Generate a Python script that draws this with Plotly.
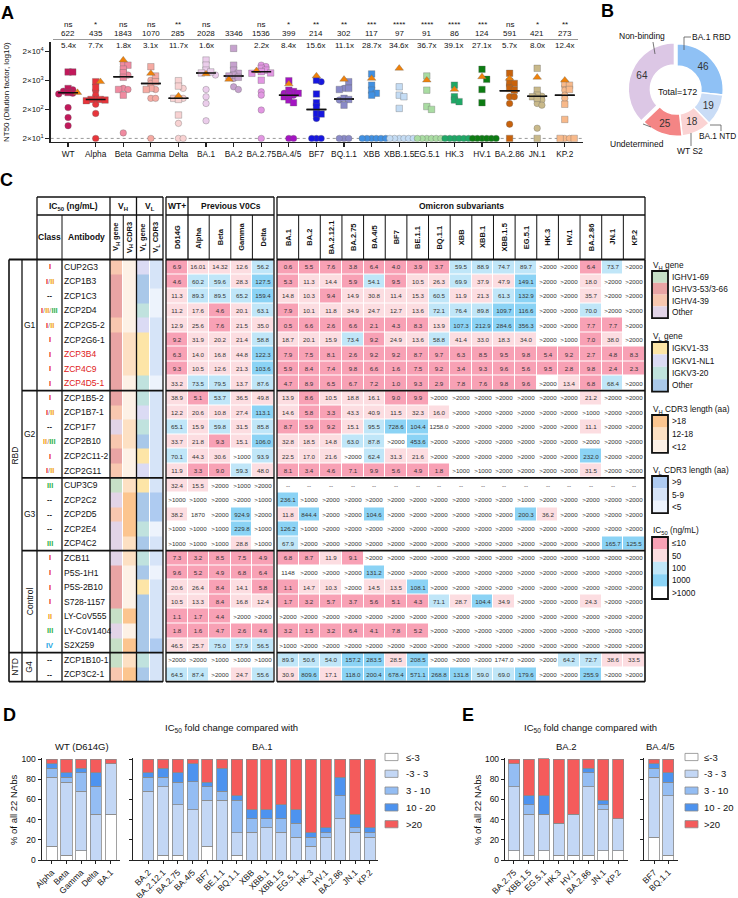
import numpy as np
import plotly.graph_objects as go

W, H = 738, 898
def X(px): return px / W
def Y(py): return 1 - py / H
FONT = "Liberation Sans, Arial, Helvetica, sans-serif"

# ======================= Panel A data =======================
variants_A = ["WT", "Alpha", "Beta", "Gamma", "Delta", "BA.1", "BA.2", "BA.2.75", "BA.4/5", "BF7",
              "BQ.1.1", "XBB", "XBB.1.5", "EG.5.1", "HK.3", "HV.1", "BA.2.86", "JN.1", "KP.2"]
gmt_A = [622, 435, 1843, 1070, 285, 2028, 3346, 1536, 399, 214, 302, 117, 97, 91, 86, 124, 591, 421, 273]
median_A = [750, 440, 2680, 1570, 480, 3600, 2830, 4000, 620, 200, 455, 20, 20, 20, 20, 20, 870, 570, 620]
sig_A = ["ns", "*", "ns", "ns", "**", "ns", "", "ns", "*", "**", "**", "***", "****", "****", "****", "***", "ns", "*", "**"]
fold_A = ["5.4x", "7.7x", "1.8x", "3.1x", "11.7x", "1.6x", "", "2.2x", "8.4x", "15.6x", "11.1x", "28.7x",
          "34.6x", "36.7x", "39.1x", "27.1x", "5.7x", "8.0x", "12.4x"]
colors_A = ["#c2185b", "#e8353b", "#f08aa0", "#f5aaa2", "#f8d2d2", "#ebcdeb", "#c6a2ce", "#e296e2", "#a414c2",
            "#1616e0", "#8a8ac8", "#4090e2", "#c4dcf4", "#a9dca2", "#1ea866", "#0c7c12", "#c8620c", "#c9b98a", "#f8b98a"]
circles_A = [
    [950, 850, 720, 680, 230, 105, 55],
    [880, 620, 440, 300, 145, 20],
    [7300, 3050, 1060, 970, 31],
    [2030, 1570, 970, 480, 480, 20],
    [1060, 480, 66, 20, 20],
    [3060, 970, 545, 320, 81],
    [2340, 1200, 970],
    [6700, 6000, 810, 620, 190, 20],
    [720, 620, 20, 20],
    [1800, 98, 20, 20, 20],
    [1060, 420, 20, 20, 20],
    [20, 20, 20, 20, 20, 20],
    [20, 20, 20, 20, 20, 20],
    [20, 20, 20, 20, 20, 20],
    [20, 20, 20, 20, 20, 20],
    [20, 20, 20, 20, 20, 20],
    [1370, 545, 545, 320, 62],
    [570, 420, 320, 280, 45],
    [1200, 920, 620, 480, 20, 20],
]
squares_A = [
    [3900, 3900, 1050, 760],
    [1800, 1140, 440, 440, 420, 400],
    [6700, 4900, 3660, 2550, 970, 620],
    [5900, 2830, 1800, 1060, 970],
    [1950, 1270, 480, 440, 128],
    [10000, 6700, 4500, 3900, 3600],
    [25300, 6700, 4500, 3500, 3050, 2830, 2550],
    [5200, 4500, 4000, 3600, 3500, 2030],
    [1950, 920, 820, 720, 660, 540, 420, 340],
    [2030, 680, 340, 250, 145, 138],
    [1800, 1060, 970, 480, 440, 280],
    [3330, 1370, 920, 720, 620],
    [1200, 620, 545, 216],
    [2830, 920, 250, 200],
    [1370, 545, 420, 370],
    [4800, 2170, 970, 340],
    [3500, 1800, 1570, 1060, 920, 20],
    [5200, 920, 620, 545, 480, 20],
    [1570, 1370, 970, 300, 90, 20, 20],
]
triangle_A = [760, 1800, 10000, 3460, 580, 3330, 2170, 4300, 1500, 2830, 2170, 2340, 5200, 2030, 970, 2650, 2340, 2550, 2030]

# ======================= Panel B data =======================
donut_labels = ["BA.1 RBD", "BA.1 NTD", "WT S2", "Undetermined", "Non-binding"]
donut_values = [46, 19, 18, 25, 64]
donut_colors = ["#8fc1f5", "#c9dcf6", "#fbd3d3", "#f48585", "#dcc7e5"]

# ======================= Panel C data =======================
wt_voc_cols = ["D614G", "Alpha", "Beta", "Gamma", "Delta"]
omicron_cols = ["BA.1", "BA.2", "BA.2.12.1", "BA.2.75", "BA.4/5", "BF7", "BE.1.1", "BQ.1.1", "XBB", "XBB.1",
                "XBB.1.5", "EG.5.1", "HK.3", "HV.1", "BA.2.86", "JN.1", "KP.2"]
antibodies = ["CUP2G3", "ZCP1B3", "ZCP1C3", "ZCP2D4", "ZCP2G5-2", "ZCP2G6-1", "ZCP3B4", "ZCP4C9", "ZCP4D5-1",
              "ZCP1B5-2", "ZCP1B7-1", "ZCP1F7", "ZCP2B10", "ZCP2C11-2", "ZCP2G11",
              "CUP3C9", "ZCP2C2", "ZCP2D5", "ZCP2E4", "ZCP4C2",
              "ZCB11", "P5S-1H1", "P5S-2B10", "S728-1157", "LY-CoV555", "LY-CoV1404", "S2X259",
              "ZCP1B10-1", "ZCP3C2-1"]
red_names = ["ZCP3B4", "ZCP4C9", "ZCP4D5-1"]
classes = ["I", "I/II", "--", "I/II/III", "I/II", "I", "I", "I", "I",
           "I", "I/II", "--", "II/III", "I", "I/II",
           "III", "--", "--", "--", "III",
           "I", "I", "I", "I", "II", "III", "IV",
           "--", "--"]
groups = [("G1", 0, 9), ("G2", 9, 15), ("G3", 15, 20), ("Control", 20, 27), ("G4", 27, 29)]
domains_ = [("RBD", 0, 27), ("NTD", 27, 29)]
vh_gene = ["IGHV4-39", "IGHV3-53/3-66", "IGHV3-53/3-66", "IGHV3-53/3-66", "IGHV4-39", "IGHV3-53/3-66",
           "IGHV3-53/3-66", "IGHV3-53/3-66", "IGHV3-53/3-66", "IGHV3-53/3-66", "IGHV4-39", "Other",
           "IGHV4-39", "IGHV3-53/3-66", "IGHV4-39", "IGHV1-69", "Other", "IGHV4-39", "Other", "Other",
           "Other", "IGHV3-53/3-66", "IGHV3-53/3-66", "IGHV3-53/3-66", "IGHV1-69", "Other", "IGHV1-69",
           "IGHV1-69", "IGHV4-39"]
vh_cdr3 = ["<12", "<12", "<12", "<12", "<12", "12-18", "12-18", "12-18", "<12", "<12", "<12", "12-18",
           "12-18", "<12", "<12", "12-18", ">18", ">18", ">18", "12-18", "12-18", "<12", "<12", "<12",
           ">18", "<12", ">18", "12-18", ">18"]
vl_gene = ["IGKV1-NL1", "Other", "Other", "IGKV3-20", "IGKV1-NL1", "IGKV1-33", "IGKV1-33", "IGKV1-33",
           "IGKV3-20", "IGKV3-20", "IGKV1-NL1", "IGKV3-20", "Other", "IGKV1-33", "IGKV1-NL1", "IGKV1-33",
           "Other", "Other", "IGKV3-20", "Other", "IGKV3-20", "Other", "IGKV1-33", "Other", "Other",
           "Other", "Other", "IGKV3-20", "Other"]
vl_cdr3 = ["5-9", "5-9", "<5", "<5", "5-9", "5-9", "5-9", "5-9", "<5", "5-9", "5-9", "5-9", "5-9", "5-9",
           "5-9", "5-9", ">9", ">9", "<5", "5-9", "5-9", "<5", "5-9", "5-9", "5-9", "5-9", ">9", "5-9", "5-9"]

G2K = ">2000"
ic50_wt_voc = [
    ["6.9", "16.01", "14.32", "12.6", "56.2"],
    ["4.6", "60.2", "59.6", "28.3", "127.5"],
    ["11.3", "89.3", "89.5", "65.2", "159.4"],
    ["11.2", "17.6", "4.6", "20.1", "63.1"],
    ["12.9", "25.6", "7.6", "21.5", "35.0"],
    ["9.2", "31.9", "20.2", "21.4", "58.8"],
    ["6.3", "14.0", "16.8", "44.8", "122.3"],
    ["9.3", "10.5", "12.6", "21.3", "103.6"],
    ["33.2", "73.5", "79.5", "13.7", "87.6"],
    ["38.9", "5.1", "53.7", "36.5", "49.8"],
    ["12.2", "20.6", "10.8", "27.4", "113.1"],
    ["65.1", "15.9", "59.8", "31.5", "85.8"],
    ["33.7", "21.8", "9.3", "15.1", "106.0"],
    ["70.1", "44.3", "30.6", ">1000", "93.9"],
    ["11.9", "3.3", "9.0", "59.3", "48.0"],
    ["32.4", "15.5", ">2000", ">1000", ">2000"],
    [">1000", ">1000", ">2000", ">2000", ">1000"],
    ["38.2", "1870", ">2000", "924.9", ">2000"],
    [">1000", ">1000", ">1000", "229.8", ">1000"],
    [">1000", ">1000", ">1000", "28.8", ">1000"],
    ["7.3", "3.2", "8.5", "7.5", "4.9"],
    ["9.6", "5.2", "4.9", "6.8", "6.4"],
    ["20.6", "26.4", "8.4", "14.1", "5.8"],
    ["10.5", "13.3", "8.4", "16.8", "12.4"],
    ["1.1", "1.7", "4.4", ">2000", ">2000"],
    ["1.8", "1.6", "4.7", "2.6", "4.6"],
    ["46.5", "25.7", "75.0", "57.9", "56.5"],
    [">2000", ">2000", ">1000", ">1000", ">1000"],
    ["64.5", "87.4", ">2000", "24.7", "55.6"],
]
ic50_omicron = [
    ["0.6", "5.5", "7.6", "3.8", "6.4", "4.0", "3.9", "3.7", "59.5", "88.9", "74.7", "89.7", G2K, G2K, "6.4", "73.7", G2K],
    ["5.3", "11.3", "14.4", "5.9", "54.1", "9.5", "10.5", "26.3", "69.9", "37.9", "47.9", "149.1", G2K, G2K, "18.0", G2K, G2K],
    ["14.8", "10.3", "9.4", "14.9", "30.8", "11.4", "15.3", "60.5", "11.9", "21.3", "61.3", "132.9", G2K, G2K, "35.7", G2K, G2K],
    ["7.9", "10.1", "11.8", "34.9", "24.7", "12.7", "13.6", "72.1", "76.4", "89.8", "109.7", "116.6", G2K, G2K, "70.0", G2K, G2K],
    ["0.5", "6.6", "2.6", "6.6", "2.1", "4.3", "8.3", "13.9", "107.3", "212.9", "284.6", "356.3", G2K, G2K, "7.7", "7.7", G2K],
    ["18.7", "20.1", "15.9", "73.4", "9.2", "24.9", "13.6", "58.8", "41.4", "33.0", "18.3", "34.0", G2K, ">1000", "7.0", "38.0", G2K],
    ["7.9", "7.5", "8.1", "2.6", "9.2", "9.2", "8.7", "9.7", "6.3", "8.5", "9.5", "9.8", "5.4", "9.2", "2.7", "4.8", "8.3"],
    ["5.9", "8.4", "7.4", "9.8", "6.6", "1.6", "7.5", "9.2", "3.4", "9.3", "9.6", "5.6", "9.5", "2.8", "9.8", "2.4", "2.3"],
    ["4.7", "8.9", "6.5", "6.7", "7.2", "1.0", "9.3", "2.9", "7.8", "7.6", "9.8", "9.6", G2K, "13.4", "6.8", "68.4", G2K],
    ["13.9", "8.6", "10.5", "18.8", "16.1", "9.0", "9.9", G2K, G2K, G2K, G2K, G2K, G2K, G2K, "21.2", G2K, G2K],
    ["14.6", "5.8", "3.3", "43.3", "40.9", "11.5", "32.3", "16.0", G2K, G2K, G2K, G2K, G2K, G2K, ">1000", G2K, G2K],
    ["8.7", "5.9", "9.2", "15.1", "95.5", "728.6", "104.4", "1258.0", G2K, G2K, G2K, G2K, G2K, G2K, "11.1", G2K, G2K],
    ["32.8", "18.5", "14.8", "63.0", "87.8", G2K, "453.6", G2K, G2K, G2K, G2K, G2K, G2K, G2K, G2K, G2K, G2K],
    ["22.5", "17.0", "21.6", G2K, "62.4", "31.3", "21.6", G2K, G2K, G2K, G2K, G2K, G2K, G2K, "232.0", G2K, G2K],
    ["8.1", "3.4", "4.6", "7.1", "9.9", "5.6", "4.9", "1.8", ">1000", ">1000", G2K, G2K, G2K, G2K, "31.5", G2K, G2K],
    ["--"] * 17,
    ["236.1", ">1000", G2K, G2K, G2K, G2K, G2K, G2K, G2K, G2K, G2K, ">1000", G2K, G2K, G2K, G2K, G2K],
    ["11.8", "844.4", G2K, G2K, "104.6", G2K, G2K, G2K, G2K, G2K, G2K, "200.3", "36.2", G2K, G2K, G2K, G2K],
    ["126.2", ">1000", G2K, G2K, G2K, G2K, G2K, G2K, G2K, G2K, G2K, G2K, G2K, G2K, G2K, G2K, G2K],
    ["67.9", G2K, G2K, G2K, G2K, G2K, G2K, G2K, G2K, G2K, G2K, G2K, G2K, G2K, G2K, "165.7", "125.5"],
    ["6.8", "8.7", "11.9", "9.1", G2K, G2K, G2K, G2K, G2K, G2K, G2K, G2K, G2K, G2K, ">1000", G2K, G2K],
    ["1148", G2K, G2K, G2K, "131.2", G2K, G2K, G2K, G2K, G2K, G2K, G2K, G2K, G2K, G2K, G2K, G2K],
    ["1.1", "14.7", "10.3", G2K, "14.5", "13.5", "108.1", G2K, G2K, G2K, G2K, G2K, G2K, G2K, G2K, G2K, G2K],
    ["1.7", "3.2", "5.7", "3.7", "5.6", "5.1", "4.3", "71.1", "28.7", "104.4", "34.9", G2K, G2K, G2K, "24.3", G2K, G2K],
    [G2K] * 17,
    ["3.2", "1.5", "3.2", "6.4", "4.1", "7.8", "5.2", G2K, G2K, G2K, G2K, G2K, G2K, G2K, G2K, G2K, G2K],
    [">1000", G2K, G2K, G2K, G2K, G2K, G2K, G2K, G2K, G2K, G2K, G2K, G2K, G2K, G2K, G2K, G2K],
    ["89.9", "50.6", "54.0", "157.2", "283.5", "28.5", "208.5", G2K, G2K, G2K, "1747.0", G2K, G2K, "64.2", "72.7", "38.6", "33.5"],
    ["30.9", "809.6", "17.1", "118.0", "200.4", "678.4", "571.1", "268.8", "131.8", "59.0", "69.0", "179.6", G2K, G2K, "255.9", G2K, G2K],
]

vh_gene_colors = {"IGHV1-69": "#c7e0c7", "IGHV3-53/3-66": "#e9a4a4", "IGHV4-39": "#f8c7af", "Other": "#e2d4e7"}
vl_gene_colors = {"IGKV1-33": "#fde5a7", "IGKV1-NL1": "#dbdbf4", "IGKV3-20": "#c0e2de", "Other": "#a9c8e9"}
vh_cdr3_colors = {">18": "#fcc58f", "12-18": "#fde0c3", "<12": "#fdf1e6"}
vl_cdr3_colors = {">9": "#aecbf1", "5-9": "#d6e4f8", "<5": "#edf3fc"}
ic50_bins = ["≤10", "50", "100", "1000", ">1000"]
ic50_colors = ["#f8a1b5", "#fcdde1", "#c0e6f8", "#8bd3f5", "#ffffff"]
class_colors = {"I": "#e8221f", "II": "#f4a012", "III": "#2fb24a", "IV": "#1ea6e2"}

# ======================= Panel D / E data =======================
fold_bins = ["≤-3", "-3 - 3", "3 - 10", "10 - 20", ">20"]
fold_colors = ["#ffffff", "#c3d7f5", "#94bdf3", "#4d93ef", "#f45b5b"]
cats_D1 = ["Alpha", "Beta", "Gamma", "Delta", "BA.1"]
pct_D1 = [[13.6, 4.5, 9.1, 0, 45.5],
          [68.2, 72.7, 59.1, 45.5, 50.0],
          [9.1, 4.5, 18.2, 27.3, 0],
          [4.5, 4.5, 4.5, 13.6, 0],
          [4.5, 13.6, 9.1, 13.6, 4.5]]
cats_D2 = ["BA.2", "BA.2.12.1", "BA.2.75", "BA.4/5", "BF7", "BE.1.1", "BQ.1.1", "XBB", "XBB.1", "XBB.1.5",
           "EG.5.1", "HK.3", "HV.1", "BA.2.86", "JN.1", "KP.2"]
pct_D2 = [[0, 4.5, 4.5, 0, 13.6, 0, 4.5, 0, 0, 0, 0, 0, 0, 0, 0, 0],
          [68.2, 68.2, 50.0, 50.0, 45.5, 59.1, 22.7, 27.3, 31.8, 27.3, 22.7, 13.6, 22.7, 40.9, 27.3, 22.7],
          [13.6, 9.1, 22.7, 27.3, 13.6, 9.1, 31.8, 13.6, 9.1, 13.6, 13.6, 9.1, 4.5, 22.7, 4.5, 4.5],
          [4.5, 9.1, 9.1, 18.2, 4.5, 22.7, 4.5, 9.1, 9.1, 13.6, 13.6, 4.5, 4.5, 18.2, 13.6, 4.5],
          [13.6, 9.1, 13.6, 4.5, 22.7, 9.1, 36.4, 50.0, 50.0, 45.5, 50.0, 72.7, 68.2, 18.2, 54.5, 68.2]]
cats_E1 = ["BA.2.75", "XBB.1.5", "EG.5.1", "HK.3", "HV.1", "BA.2.86", "JN.1", "KP.2"]
pct_E1 = [[9.1, 4.5, 9.1, 4.5, 4.5, 4.5, 9.1, 9.1],
          [63.6, 40.9, 36.4, 31.8, 40.9, 68.2, 40.9, 31.8],
          [22.7, 9.1, 0, 0, 0, 13.6, 4.5, 0],
          [0, 9.1, 18.2, 0, 0, 4.5, 4.5, 0],
          [4.5, 36.4, 36.4, 63.6, 54.5, 9.1, 40.9, 59.1]]
cats_E2 = ["BF7", "BQ.1.1"]
pct_E2 = [[22.7, 4.5], [59.1, 59.1], [9.1, 13.6], [4.5, 9.1], [4.5, 13.6]]

# ======================= build =======================
fig = go.Figure()
ann, shapes = [], []

def A(x, y, text, size=8, color="#111", bold=False, xanchor="center", yanchor="middle", angle=0,
      xref="paper", yref="paper"):
    if not text:
        return
    if bold:
        text = f"<b>{text}</b>"
    ann.append(dict(x=x, y=y, xref=xref, yref=yref, text=text, showarrow=False, textangle=angle,
                    font=dict(size=size, color=color, family=FONT), xanchor=xanchor, yanchor=yanchor,
                    borderpad=0))

def L(x0, y0, x1, y1, w=1.2, color="#111", dash=None):
    shapes.append(dict(type="line", xref="paper", yref="paper", x0=X(x0), y0=Y(y0), x1=X(x1), y1=Y(y1),
                       line=dict(color=color, width=w, dash=dash)))

def R(x0, y0, x1, y1, fill, lw=0, lc="#111"):
    shapes.append(dict(type="rect", xref="paper", yref="paper", x0=X(x0), y0=Y(y0), x1=X(x1), y1=Y(y1),
                       fillcolor=fill, line=dict(width=lw, color=lc)))

# ---------- Panel A ----------
def swarm(vals, step=0.17, tol=0.11):
    order = sorted(range(len(vals)), key=lambda i: -vals[i])
    placed, offs = [], [0.0] * len(vals)
    for i in order:
        lv = np.log10(vals[i])
        o = 0.0
        for k in [0, 1, -1, 2, -2, 3, -3, 4, -4]:
            o = k * step
            if all(abs(lv - pl) >= tol or abs(o - po) >= step * 0.99 for pl, po in placed):
                break
        offs[i] = o
        placed.append((lv, o))
    return offs

pts = {"c": ([], [], []), "s": ([], [], []), "t": ([], [], [])}
for i in range(len(variants_A)):
    vals = circles_A[i] + squares_A[i] + [triangle_A[i]]
    kinds = ["c"] * len(circles_A[i]) + ["s"] * len(squares_A[i]) + ["t"]
    offs = swarm(vals)
    for v, k, o in zip(vals, kinds, offs):
        pts[k][0].append(i + o)
        pts[k][1].append(v)
        pts[k][2].append(colors_A[i] if k != "t" else "#f0820a")

xA_range = [-0.63, 18.66]
fig.add_trace(go.Scatter(x=xA_range, y=[20, 20], mode="lines", line=dict(color="#999", width=1, dash="dot"),
                         xaxis="x", yaxis="y", showlegend=False, hoverinfo="skip"))
gx, gy = [], []
for i, g in enumerate(median_A):
    gx += [i - 0.36, i + 0.36, None]
    gy += [g, g, None]
fig.add_trace(go.Scatter(x=gx, y=gy, mode="lines", line=dict(color="#111", width=1.5),
                         xaxis="x", yaxis="y", showlegend=False, hoverinfo="skip"))
for k, sym, sz in [("c", "circle", 6.5), ("s", "square", 6.5), ("t", "triangle-up", 7.5)]:
    fig.add_trace(go.Scatter(x=pts[k][0], y=pts[k][1], mode="markers",
                             marker=dict(symbol=sym, size=sz, color=pts[k][2],
                                         line=dict(color="rgba(100,100,100,0.55)", width=0.6)),
                             xaxis="x", yaxis="y", showlegend=False, hoverinfo="skip"))
gx2, gy2 = [], []
for i, g in enumerate(median_A):
    if g > 20:
        gx2 += [i - 0.36, i + 0.36, None]
        gy2 += [g, g, None]
fig.add_trace(go.Scatter(x=gx2, y=gy2, mode="lines", line=dict(color="#111", width=1.5),
                         xaxis="x", yaxis="y", showlegend=False, hoverinfo="skip"))
for i in range(len(variants_A)):
    A(i, Y(24.5), sig_A[i], size=8, xref="x")
    A(i, Y(34), str(gmt_A[i]), size=8, xref="x")
    A(i, Y(45), fold_A[i], size=8, xref="x")
L(53, 39.5, 578, 39.5, w=1, color="#999")
A(X(7), Y(92), "NT50 (Dilution factor, log10)", size=8, angle=-90)

# ---------- Panel B ----------
fig.add_trace(go.Pie(labels=donut_labels, values=donut_values, marker=dict(colors=donut_colors,
                     line=dict(color="white", width=1.5)), hole=0.52, sort=False, direction="clockwise",
                     rotation=0, pull=[0, 0, 0, 0, 0.06], textinfo="value", textposition="inside",
                     insidetextorientation="horizontal",
                     textfont=dict(size=10, color="#333", family=FONT), showlegend=False, hoverinfo="skip",
                     domain=dict(x=[X(628), X(726)], y=[Y(139), Y(41)])))
A(X(677), Y(92), "Total=172", size=9)
A(X(642), Y(36.5), "Non-binding", size=8.5)
L(653, 42, 655, 54, w=0.8, color="#555")
A(X(711), Y(37), "BA.1 RBD", size=8.5)
L(691, 37, 684, 37, w=0.8, color="#555"); L(684, 37, 684, 50, w=0.8, color="#555")
A(X(737), Y(136.5), "BA.1 NTD", size=8.3, xanchor="right")
L(710, 125, 721, 125, w=0.8, color="#555"); L(721, 125, 721, 131, w=0.8, color="#555")
A(X(690), Y(150.5), "WT S2", size=8.5)
L(691, 146, 691, 133, w=0.8, color="#555")
A(X(637), Y(143.5), "Undetermined", size=8.5)
L(643, 124, 651, 127, w=0.8, color="#555")

# ---------- Panel C ----------
row_top, row_bot = 259.5, 681.7
nrows = len(antibodies)
rh = (row_bot - row_top) / nrows
def rowc(r): return row_top + (r + 0.5) * rh
def rowe(r): return row_top + r * rh

def ic_cat(s):
    if s.startswith(">") or s.startswith("-"):
        return 4
    v = float(s)
    return 0 if v <= 10 else 1 if v <= 50 else 2 if v <= 100 else 3 if v <= 1000 else 4

ic_scale = [[k / 4, c] for k, c in enumerate(ic50_colors)]
gene_palette = list(vh_gene_colors.values()) + list(vh_cdr3_colors.values()) + \
               list(vl_gene_colors.values()) + list(vl_cdr3_colors.values())
gene_scale = [[k / (len(gene_palette) - 1), c] for k, c in enumerate(gene_palette)]
def gidx(c): return gene_palette.index(c)
z_gene = [[gidx(vh_gene_colors[vh_gene[r]]), gidx(vh_cdr3_colors[vh_cdr3[r]]),
           gidx(vl_gene_colors[vl_gene[r]]), gidx(vl_cdr3_colors[vl_cdr3[r]])] for r in range(nrows)]
fig.add_trace(go.Heatmap(z=z_gene, colorscale=gene_scale, zmin=0, zmax=len(gene_palette) - 1,
                         showscale=False, xgap=1, ygap=0, xaxis="x2", yaxis="y2", hoverinfo="skip"))
for data, ax in [(ic50_wt_voc, "3"), (ic50_omicron, "4")]:
    fig.add_trace(go.Heatmap(z=[[ic_cat(s) for s in row] for row in data], text=data,
                             texttemplate="%{text}", textfont=dict(size=6.2, color="#333", family=FONT),
                             colorscale=ic_scale, zmin=0, zmax=4, showscale=False, xgap=1, ygap=1,
                             xaxis="x" + ax, yaxis="y" + ax, hoverinfo="skip"))

gene_x0, gene_x1 = 110, 163
wt_x0, wt_x1 = 166, 274
om_x0, om_x1 = 277, 645
gw = (gene_x1 - gene_x0) / 4
ww = (wt_x1 - wt_x0) / len(wt_voc_cols)
ow = (om_x1 - om_x0) / len(omicron_cols)

hy0, hy1 = 197, 215
A(X(73.5), Y(206), "IC<sub>50</sub> (ng/mL)", size=8.5, bold=True)
A(X(123.25), Y(206), "V<sub>H</sub>", size=8.5, bold=True)
A(X(149.75), Y(206), "V<sub>L</sub>", size=8.5, bold=True)
A(X(177), Y(206), "WT+", size=8.5, bold=True)
A(X(231), Y(206), "Previous V0Cs", size=8.5, bold=True)
A(X(461), Y(206), "Omicron subvariants", size=8.5, bold=True)
hmid = (hy1 + row_top) / 2
A(X(49.5), Y(hmid), "Class", size=8.5, bold=True)
A(X(86), Y(hmid), "Antibody", size=8.5, bold=True)
for j, t in enumerate(["V<sub>H</sub> gene", "V<sub>H</sub> CDR3", "V<sub>L</sub> gene", "V<sub>L</sub> CDR3"]):
    A(X(gene_x0 + (j + 0.5) * gw), Y(hmid), t, size=7.5, bold=True, angle=-90)
for j, t in enumerate(wt_voc_cols):
    A(X(wt_x0 + (j + 0.5) * ww), Y(hmid), t, size=7.5, bold=True, angle=-90)
for j, t in enumerate(omicron_cols):
    A(X(om_x0 + (j + 0.5) * ow), Y(hmid), t, size=7.5, bold=True, angle=-90)

for r, ab in enumerate(antibodies):
    A(X(62.8), Y(rowc(r)), ab, size=8.5, color="#e02020" if ab in red_names else "#111", xanchor="left")
    cls = classes[r]
    if cls == "--":
        txt = "<b>--</b>"
    else:
        parts = cls.split("/")
        txt = "<span style='color:#888'>/</span>".join(
            f"<span style='color:{class_colors[p]}'><b>{p}</b></span>" for p in parts)
    A(X(49.5), Y(rowc(r)), txt, size=7.5)
for name, r0, r1 in groups:
    rot = -90 if name in ("Control", "G4") else 0
    A(X(29.5), Y((rowe(r0) + rowe(r1)) / 2), name, size=8.5, angle=rot)
for name, r0, r1 in domains_:
    A(X(15.5), Y((rowe(r0) + rowe(r1)) / 2), name, size=8.5, angle=-90)

segs_full = [(9, 163), (166, 274), (277, 645)]
segs_head = [(37, 163), (166, 274), (277, 645)]
for y in [hy0, hy1]:
    for a, b in segs_head:
        L(a, y, b, y, 1.3)
for a, b in segs_full:
    L(a, row_top, b, row_top, 1.8)
    L(a, row_bot, b, row_bot, 1.8)
for name, r0, r1 in groups[1:]:
    y = rowe(r0)
    start = 9 if name == "G4" else 22
    for a, b in [(start, 163), (166, 274), (277, 645)]:
        L(a, y, b, y, 1.8)
for x in [37, 110, 136.5, 163, 166, 188, 274, 277, 645]:
    L(x, hy0, x, row_top, 1.3)
for x in [62, gene_x0 + gw, gene_x0 + 3 * gw] + [wt_x0 + k * ww for k in range(2, 5)] + \
         [om_x0 + k * ow for k in range(1, 17)]:
    L(x, hy1, x, row_top, 1.0)
for x in [9, 22, 37, 62, 110, 136.5, 163, 166, 274, 277, 645]:
    L(x, row_top, x, row_bot, 1.3 if x not in (9, 645) else 1.6)

def legend_block(title, ty, top, items, ih):
    A(X(652), Y(ty), title, size=8.3, xanchor="left")
    for k, (lab, col) in enumerate(items):
        R(652, top + k * ih, 668, top + (k + 1) * ih, col)
        A(X(671), Y(top + (k + 0.5) * ih), lab, size=8.3, xanchor="left")
    R(652, top, 668, top + len(items) * ih, "rgba(0,0,0,0)", lw=1.8)

legend_block("V<sub>H</sub> gene", 265, 271, list(vh_gene_colors.items()), 11.8)
legend_block("V<sub>L</sub> gene", 336, 342, list(vl_gene_colors.items()), 12.4)
legend_block("V<sub>H</sub> CDR3 length (aa)", 409, 415, list(vh_cdr3_colors.items()), 12.6)
legend_block("V<sub>L</sub> CDR3 length (aa)", 470, 476, list(vl_cdr3_colors.items()), 12.4)
legend_block("IC<sub>50</sub> (ng/mL)", 530, 537, list(zip(ic50_bins, ic50_colors)), 12.4)

# ---------- Panels D / E ----------
bar_panels = [(cats_D1, pct_D1, "5"), (cats_D2, pct_D2, "6"), (cats_E1, pct_E1, "7"), (cats_E2, pct_E2, "8")]
for cats, pct, ax in bar_panels:
    for b in range(5):
        fig.add_trace(go.Bar(x=cats, y=pct[b], name=fold_bins[b],
                             marker=dict(color=fold_colors[b], line=dict(color="#8a8a8a", width=0.8)),
                             xaxis="x" + ax, yaxis="y" + ax, showlegend=False, hoverinfo="skip"))

for bx, tx in [(385, 405), (685, 703)]:
    for k, lab in enumerate(fold_bins):
        yc = 757 + k * 16.8
        R(bx, yc - 3.6, bx + 13, yc + 3.6, fold_colors[k], lw=0.8, lc="#8a8a8a")
        A(X(tx), Y(yc), lab, size=9.5, xanchor="left")

A(X(231), Y(728), "IC<sub>50</sub> fold change compared with", size=9.5)
A(X(82), Y(746), "WT (D614G)", size=9.5)
A(X(262), Y(746), "BA.1", size=9.5)
A(X(590), Y(728), "IC<sub>50</sub> fold change compared with", size=9.5)
A(X(566), Y(746), "BA.2", size=9.5)
A(X(660), Y(746), "BA.4/5", size=9.5)
A(X(13), Y(810), "% of all 22 NAbs", size=9.5, angle=-90)
A(X(477), Y(810), "% of all 22 NAbs", size=9.5, angle=-90)

for letter, x, y in [("A", 7, 13), ("B", 607, 11), ("C", 6, 180), ("D", 9, 715), ("E", 468, 715)]:
    A(X(x), Y(y), letter, size=18, bold=True, color="#000")

# ---------- layout ----------
def hid(domain, rng, anchor):
    return dict(domain=domain, range=rng, visible=False, fixedrange=True, anchor=anchor, automargin=False)

tickfont = dict(size=8.5, family=FONT, color="#111")
ybar_dom = [Y(860), Y(758)]

def xbar(domain, rng, anchor):
    return dict(domain=domain, range=rng, anchor=anchor, showline=True, linecolor="#222", linewidth=1.2,
                ticks="outside", ticklen=3, tickwidth=1, tickcolor="#222", tickangle=-45,
                tickfont=tickfont, showgrid=False, zeroline=False, type="category", automargin=False)

def ybar(anchor, labels):
    return dict(domain=ybar_dom, range=[0, 101], anchor=anchor, showline=True, linecolor="#222",
                linewidth=1.2, ticks="outside", ticklen=3, tickwidth=1, tickcolor="#222",
                tickvals=[0, 20, 40, 60, 80, 100], showticklabels=labels, tickfont=tickfont,
                showgrid=False, zeroline=False, automargin=False)

fig.update_layout(
    template="none",
    width=W, height=H, autosize=False, margin=dict(l=0, r=0, t=0, b=0, pad=0),
    paper_bgcolor="white", plot_bgcolor="rgba(0,0,0,0)", font=dict(family=FONT, color="#111"),
    barmode="stack", bargap=0.25, showlegend=False, hovermode=False,
    xaxis=dict(domain=[X(50.7), X(583)], range=xA_range, anchor="y", showline=True, linecolor="#222",
               linewidth=1.4, ticks="outside", ticklen=4, tickwidth=1.2, tickcolor="#222", tickangle=0,
               tickvals=list(range(len(variants_A))), ticktext=variants_A,
               tickfont=dict(size=8.3, family=FONT, color="#111"),
               showgrid=False, zeroline=False, automargin=False),
    yaxis=dict(domain=[Y(141.7), Y(41.7)], type="log", range=[np.log10(15.4), np.log10(43000)], anchor="x",
               showline=True, linecolor="#222", linewidth=1.4, ticks="outside", ticklen=4, tickwidth=1.2,
               tickcolor="#222", tickvals=[20, 200, 2000, 20000],
               ticktext=["2×10<sup>1</sup>", "2×10<sup>2</sup>", "2×10<sup>3</sup>", "2×10<sup>4</sup>"],
               tickfont=dict(size=8, family=FONT, color="#111"), showgrid=False, zeroline=False,
               automargin=False),
    xaxis2=hid([X(gene_x0), X(gene_x1)], [-0.5, 3.5], "y2"),
    yaxis2=hid([Y(row_bot), Y(row_top)], [nrows - 0.5, -0.5], "x2"),
    xaxis3=hid([X(wt_x0), X(wt_x1)], [-0.5, len(wt_voc_cols) - 0.5], "y3"),
    yaxis3=hid([Y(row_bot), Y(row_top)], [nrows - 0.5, -0.5], "x3"),
    xaxis4=hid([X(om_x0), X(om_x1)], [-0.5, len(omicron_cols) - 0.5], "y4"),
    yaxis4=hid([Y(row_bot), Y(row_top)], [nrows - 0.5, -0.5], "x4"),
    xaxis5=xbar([X(41.7), X(120)], [-0.68, 4.63], "y5"),
    yaxis5=ybar("x5", True),
    xaxis6=xbar([X(133), X(378)], [-1.04, 15.55], "y6"),
    yaxis6=ybar("x6", False),
    xaxis7=xbar([X(505), X(628)], [-0.6, 7.65], "y7"),
    yaxis7=ybar("x7", True),
    xaxis8=xbar([X(644), X(678.3)], [-0.7, 1.7], "y8"),
    yaxis8=ybar("x8", False),
    annotations=ann, shapes=shapes,
)

fig.write_html("out.html", config={"displayModeBar": False, "staticPlot": True},
               post_script="document.body.style.margin='0';document.body.style.padding='0';"
                           "document.body.style.overflow='hidden';")
